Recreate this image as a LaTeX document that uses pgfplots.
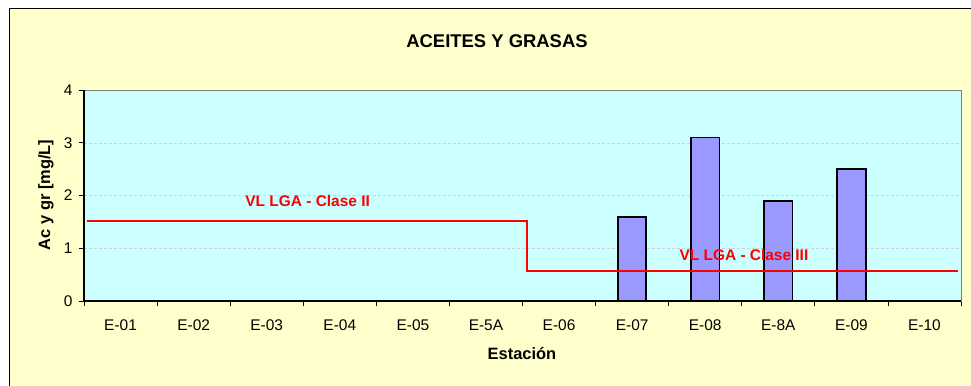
\documentclass[border=0pt]{standalone}
\usepackage{pgfplots}
\pgfplotsset{compat=1.18}
\usepackage{fontspec}
\setmainfont{Liberation Sans}
\definecolor{outerbg}{HTML}{FFFFCC}
\definecolor{plotbg}{HTML}{CCFFFF}
\definecolor{barfill}{HTML}{9999FF}
\definecolor{limred}{HTML}{FF0000}
\begin{document}
\begin{tikzpicture}[x=1bp,y=1bp]
\useasboundingbox (0,0) rectangle (971,385);
\fill[white] (0,0) rectangle (971,385);
\fill[outerbg] (9,0) rectangle (971,376);
\draw[black, line width=1bp] (9,-1) -- (9,376) -- (972,376);
\begin{axis}[
  at={(84bp,84bp)}, anchor=south west,
  width=877bp, height=211bp, scale only axis,
  xmin=-0.5, xmax=11.5, ymin=0, ymax=4,
  xtick={0,...,11},
  xticklabels={E-01,E-02,E-03,E-04,E-05,E-5A,E-06,E-07,E-08,E-8A,E-09,E-10},
  minor xtick={-0.5,0.5,...,11.5},
  ytick={0,1,2,3,4},
  major x tick style={draw=none},
  tick align=outside,
  xtick pos=bottom, ytick pos=left,
  major tick length=5bp, minor tick length=5bp,
  tick style={black, line width=0.8bp},
  ymajorgrids, grid style={densely dashed, gray!35, line width=0.5bp},
  axis background/.style={fill=plotbg},
  axis line style={draw=gray, line width=1bp},
  /pgf/number format/assume math mode=true,
  tick label style={font=\fontsize{15.5}{18}\selectfont, black},
  xticklabel style={yshift=-10bp},
  yticklabel style={xshift=-3bp},
  clip=false,
]
\addplot[ybar, bar width=28.5bp, fill=barfill, draw=black, line width=1.8bp]
  coordinates {(7,1.6) (8,3.1) (9,1.9) (10,2.5)};
\addplot[draw=limred, line width=2bp, sharp plot, mark=none]
  coordinates {(-0.46,1.5166) (5.56,1.5166) (5.56,0.5687) (11.46,0.5687)};
\node[limred, font=\bfseries\fontsize{15.5}{18}\selectfont] at (axis cs:2.56,1.9) {VL LGA - Clase II};
\node[limred, font=\bfseries\fontsize{15.5}{18}\selectfont] at (axis cs:8.53,0.88) {VL LGA - Clase III};
\draw[black, line width=1.2bp] (rel axis cs:0,1) -- (rel axis cs:0,0) -- (rel axis cs:1,0);
\end{axis}
\node[font=\bfseries\fontsize{18.5}{22}\selectfont] at (497,344) {ACEITES Y GRASAS};
\node[font=\bfseries\fontsize{16.5}{20}\selectfont] at (522,31) {Estación};
\node[font=\bfseries\fontsize{16.5}{20}\selectfont, rotate=90] at (46,190) {Ac y gr [mg/L]};
\end{tikzpicture}
\end{document}
